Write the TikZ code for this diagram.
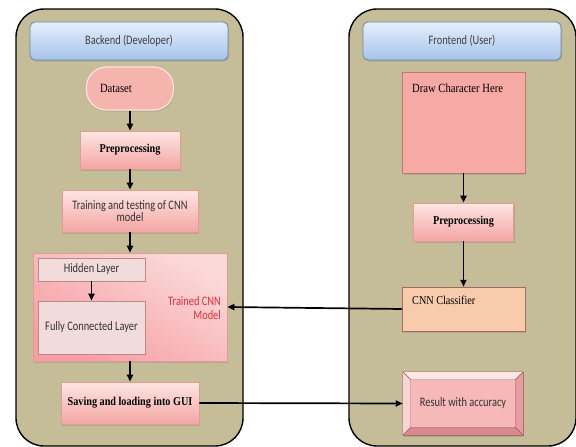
\documentclass[tikz,border=0pt]{standalone}
\usepackage{fontspec}
\setmainfont{Liberation Serif}[FakeStretch=0.85]
\newfontfamily\calfont{Carlito}[FakeStretch=0.8]
\usetikzlibrary{arrows.meta,calc,shadows}
\definecolor{panel}{HTML}{C4BD97}
\definecolor{hdtop}{HTML}{E6EFFB}
\definecolor{hdbot}{HTML}{A6C3EC}
\definecolor{hdline}{HTML}{6F87A8}
\definecolor{pinkA}{HTML}{FDE6E3}
\definecolor{pinkB}{HTML}{F4A6A3}
\definecolor{pinkline}{HTML}{E59A96}
\definecolor{dsfill}{HTML}{F6B4AF}
\definecolor{dsline}{HTML}{FCE3DC}
\definecolor{drawfill}{HTML}{F6A9A5}
\definecolor{peach}{HTML}{F8CBAD}
\definecolor{layerfill}{HTML}{F2DCDB}
\definecolor{layerline}{HTML}{B88A88}
\definecolor{trA}{HTML}{FBD9D8}
\definecolor{trB}{HTML}{F79DA4}
\definecolor{redtxt}{HTML}{E5303C}
\definecolor{btn}{HTML}{F6B8B8}
\definecolor{btndark}{HTML}{D98A8C}
\definecolor{btnmid}{HTML}{E89C9E}
\tikzset{
  calf/.style={font=\calfont\fontsize{13}{14}\selectfont},
  serf/.style={font=\fontsize{12.5}{14}\selectfont},
  serb/.style={font=\bfseries\fontsize{12}{14}\selectfont},
  panelbox/.style={draw=black, line width=1.4pt, fill=panel, rounded corners=28pt, minimum width=227pt, minimum height=437pt},
  header/.style={draw=hdline, line width=0.8pt, rounded corners=5pt, top color=hdtop, bottom color=hdbot, minimum width=198pt, minimum height=38pt, calf, text=black!75, drop shadow={shadow xshift=1pt, shadow yshift=-1.5pt, opacity=0.35}},
  pinkbox/.style={draw=pinkline, line width=0.6pt, top color=pinkA, bottom color=pinkB, drop shadow={shadow xshift=1pt, shadow yshift=-1.5pt, opacity=0.35}},
  layer/.style={draw=layerline, line width=0.6pt, fill=layerfill, calf, text=black!80},
  flow/.style={-{Triangle[length=7pt,width=6pt]}, line width=1.7pt, black},
}
\begin{document}
\begin{tikzpicture}[x=1pt,y=-1pt]
\useasboundingbox (0,0) rectangle (576,447);
% panels
\node[panelbox] (left) at (129.5,227.5) {};
\node[panelbox] (right) at (462.5,227.5) {};
% headers
\node[header] (bh) at (129,41) {Backend (Developer)};
\node[header] (fh) at (462,41) {Frontend (User)};
% backend boxes
\node[draw=dsline, line width=1.2pt, fill=dsfill, rounded corners=20pt, minimum width=87pt, minimum height=43pt, text width=60pt, align=left, inner xsep=13pt, serf, drop shadow={shadow xshift=1pt, shadow yshift=-1.5pt, opacity=0.3}] (ds) at (130,88.5) {\raisebox{-2pt}{Dataset}};
\node[pinkbox, minimum width=100pt, minimum height=38pt, serb] (pre1) at (130,150) {Preprocessing};
\node[pinkbox, minimum width=136pt, minimum height=42pt, align=center, font=\calfont\fontsize{13}{12.5}\selectfont, text=black!80] (train) at (130,211) {Training and testing of CNN\\model};
\node[draw=pinkline, line width=0.6pt, shading=axis, top color=trA, bottom color=trB, shading angle=-30, minimum width=194pt, minimum height=108pt, drop shadow={shadow xshift=1pt, shadow yshift=-1.5pt, opacity=0.3}] (tcnn) at (130,307) {};
\node[layer, minimum width=107pt, minimum height=23pt] (hid) at (91.5,269.5) {Hidden Layer};
\node[layer, minimum width=107pt, minimum height=53pt] (fc) at (91.5,327.5) {Fully Connected Layer};
\node[anchor=east, align=right, text=redtxt, font=\calfont\fontsize{13}{14.5}\selectfont, inner sep=0pt] (tlab) at (221,308) {Trained CNN\\Model};
\node[pinkbox, minimum width=138pt, minimum height=42pt, serb] (save) at (130,403) {Saving and loading into GUI};
% frontend boxes
\node[draw=pinkline!80!black, line width=0.5pt, fill=drawfill, minimum width=123pt, minimum height=101pt, drop shadow={shadow xshift=1pt, shadow yshift=-1.5pt, opacity=0.3}] (draw) at (463.5,122.5) {};
\node[anchor=north west, inner sep=0pt, serf] (drawt) at (412,84) {Draw Character Here};
\node[pinkbox, minimum width=100pt, minimum height=38pt, serb] (pre2) at (463.5,222) {Preprocessing};
\node[draw=pinkline!70!black, line width=0.5pt, fill=peach, minimum width=123pt, minimum height=44pt, drop shadow={shadow xshift=1pt, shadow yshift=-1.5pt, opacity=0.3}] (cls) at (463.5,309) {};
\node[anchor=north west, inner sep=0pt, font=\fontsize{12}{14}\selectfont] (clst) at (412,296) {CNN Classifier};
% bevel button
\node[draw=pinkline!70!black, line width=0.5pt, fill=btn, minimum width=120pt, minimum height=63pt, drop shadow={shadow xshift=1pt, shadow yshift=-1.5pt, opacity=0.3}] (res) at (463,403.5) {};
\coordinate (o1) at (res.north west); \coordinate (o2) at (res.north east);
\coordinate (o3) at (res.south east); \coordinate (o4) at (res.south west);
\coordinate (i1) at ($(res.north west)+(8,8)$); \coordinate (i2) at ($(res.north east)+(-8,8)$);
\coordinate (i3) at ($(res.south east)+(-8,-8)$); \coordinate (i4) at ($(res.south west)+(8,-8)$);
\fill[pinkA] (o1) -- (o2) -- (i2) -- (i1) -- cycle;
\fill[pinkA!60!btn] (o1) -- (i1) -- (i4) -- (o4) -- cycle;
\fill[btnmid] (o2) -- (o3) -- (i3) -- (i2) -- cycle;
\fill[btndark] (o4) -- (i4) -- (i3) -- (o3) -- cycle;
\draw[pinkline!60!black, line width=0.4pt] (o1) -- (i1) (o2) -- (i2) (o3) -- (i3) (o4) -- (i4) (i1) rectangle (i3) (o1) rectangle (o3);
\node[calf, text=black!80] (rest) at (res.center) {Result with accuracy};
% connectors
\draw[flow] (ds.south) -- (pre1.north);
\draw[flow] (pre1.south) -- (train.north);
\draw[flow] (train.south) -- (tcnn.north);
\draw[flow] (hid.south) -- (fc.north);
\draw[flow] (tcnn.south) -- (save.north);
\draw[flow] (draw.south) -- (pre2.north);
\draw[flow] (pre2.south) -- (cls.north);
\draw[flow] (cls.west) -- (tcnn.east);
\draw[flow] (save.east) -- (res.west);
\end{tikzpicture}
\end{document}
